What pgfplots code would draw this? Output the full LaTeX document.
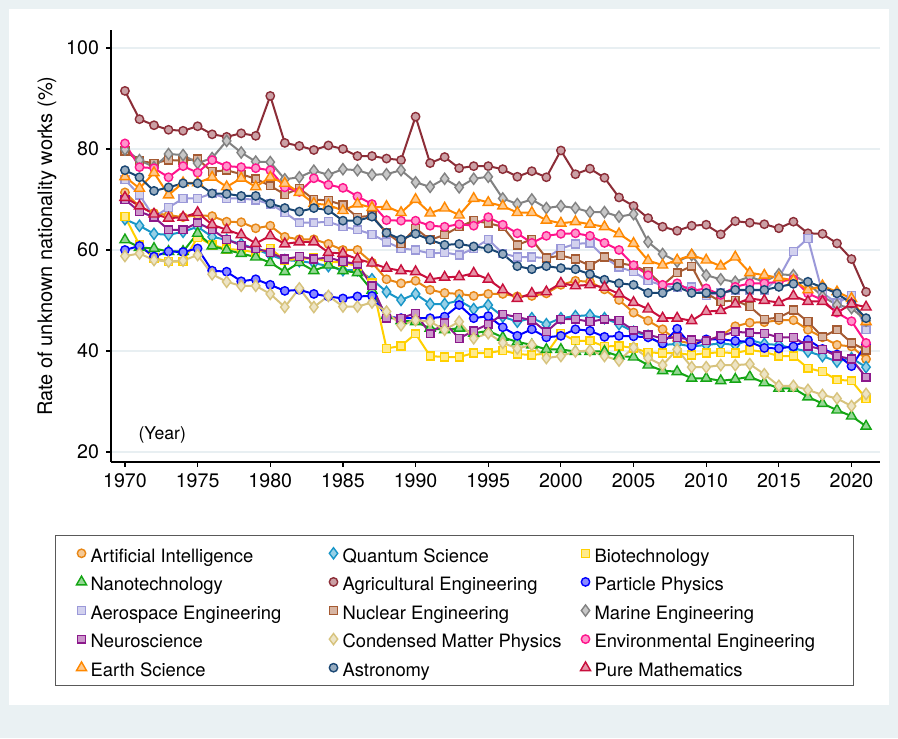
\documentclass[border=0pt]{standalone}
\usepackage{pgfplots}
\pgfplotsset{compat=1.18}
\usepackage{pgfplotstable}
\usepackage{fontspec}
\setmainfont{TeX Gyre Heros}

\definecolor{bgc}{RGB}{234,241,243}
\definecolor{gridc}{RGB}{232,239,242}
\definecolor{cai}{RGB}{232,134,20}
\definecolor{cqs}{RGB}{25,150,200}
\definecolor{cbt}{RGB}{255,208,0}
\definecolor{cnt}{RGB}{20,165,20}
\definecolor{cag}{RGB}{140,45,55}
\definecolor{cpp}{RGB}{0,0,255}
\definecolor{cae}{RGB}{155,153,217}
\definecolor{cne}{RGB}{165,90,50}
\definecolor{cme}{RGB}{130,130,130}
\definecolor{cns}{RGB}{140,25,140}
\definecolor{ccm}{RGB}{215,195,125}
\definecolor{cev}{RGB}{255,20,140}
\definecolor{ces}{RGB}{255,136,0}
\definecolor{cas}{RGB}{25,70,115}
\definecolor{cpm}{RGB}{200,15,60}

\pgfplotstableread{
yr   ai   qs   bt   nt   ag   pp   ae   ne   me   ns   cm   ev   es   as   pm
1970 71.4 66.1 66.6 62.0 91.5 60.0 73.9 79.6 79.9 70.0 58.8 81.1 74.5 75.8 70.4
1971 68.6 64.8 61.0 60.5 85.9 60.8 70.9 77.6 77.8 67.6 59.3 76.4 72.2 74.4 68.7
1972 67.3 63.2 58.4 60.3 84.7 58.7 66.5 77.2 76.4 66.5 58.0 76.2 75.3 71.7 67.1
1973 66.9 63.0 57.7 59.7 83.8 59.7 68.4 77.8 79.0 64.0 57.7 74.4 70.9 72.4 66.3
1974 66.5 63.6 57.7 59.7 83.6 59.6 70.2 77.7 78.8 64.0 57.9 76.6 73.3 73.2 66.5
1975 66.9 64.6 62.5 63.3 84.5 60.3 70.2 78.0 77.2 65.4 59.0 75.3 73.3 73.2 67.4
1976 66.7 62.6 61.0 60.8 82.9 55.9 71.2 75.5 78.2 64.0 55.2 77.8 74.4 71.2 65.0
1977 65.6 62.0 60.2 60.0 82.4 55.7 70.2 75.8 81.6 62.1 53.7 76.6 72.5 71.1 64.0
1978 65.5 61.2 60.0 59.3 83.1 53.8 70.2 75.0 79.3 60.9 52.9 76.4 74.2 70.7 63.0
1979 64.3 60.2 59.5 58.6 82.6 54.2 69.9 74.1 77.5 60.3 52.9 76.2 72.5 70.7 61.3
1980 64.8 59.0 60.3 57.5 90.5 53.1 69.1 72.7 77.4 59.5 51.3 75.8 74.4 69.2 62.8
1981 62.6 58.0 58.0 55.7 81.2 51.9 67.4 71.0 74.0 58.2 48.7 72.4 73.2 68.3 61.2
1982 62.1 57.8 58.2 57.5 80.6 52.1 65.4 72.2 74.4 58.7 52.4 71.5 71.4 67.6 61.6
1983 62.1 57.4 58.4 55.9 79.8 51.3 65.4 70.0 75.7 58.2 48.7 74.2 69.2 68.3 61.6
1984 61.2 56.8 57.7 57.0 80.7 50.8 65.6 69.8 74.9 58.5 50.9 72.9 68.9 67.9 59.5
1985 60.0 56.0 57.5 55.9 80.0 50.4 64.6 68.9 76.0 57.7 48.8 72.3 67.8 65.8 59.3
1986 60.0 56.0 56.8 55.5 78.6 50.8 64.0 66.5 75.8 57.2 48.8 70.6 69.1 65.8 58.2
1987 57.5 54.2 53.5 52.0 78.6 50.9 63.1 66.8 74.9 52.9 49.6 69.1 68.4 66.6 57.4
1988 54.2 51.7 40.5 47.0 78.1 46.8 61.6 63.4 75.0 46.5 47.8 65.9 68.6 63.4 56.4
1989 53.4 50.1 41.0 46.0 77.8 46.5 60.3 61.3 75.8 46.5 45.1 65.8 67.4 62.1 55.9
1990 53.9 51.3 43.4 45.8 86.4 46.5 60.0 64.3 73.4 47.5 46.1 65.8 70.0 63.2 55.7
1991 52.1 49.3 39.0 44.5 77.2 46.5 59.3 62.0 72.5 43.4 45.8 64.8 67.3 62.0 54.2
1992 51.5 49.3 38.8 44.2 78.4 46.8 59.5 63.0 74.1 45.6 44.2 64.6 68.3 61.0 54.6
1993 51.3 50.0 38.8 44.5 76.2 49.1 59.0 64.6 72.4 42.5 45.8 65.1 66.9 61.2 54.7
1994 50.9 48.3 39.6 43.5 76.6 46.5 60.3 65.8 74.1 44.0 42.5 64.8 70.2 60.7 55.4
1995 51.3 49.1 39.6 44.0 76.6 46.9 62.1 65.3 74.5 45.3 43.5 66.5 69.4 60.3 54.2
1996 51.3 46.8 40.1 42.7 76.0 44.7 59.3 64.6 70.2 47.3 41.6 65.0 68.7 59.2 52.1
1997 50.8 45.8 39.4 41.8 74.5 43.0 58.6 61.0 69.1 46.7 40.5 63.3 67.4 56.8 50.4
1998 50.9 46.5 39.2 41.2 75.6 44.3 58.6 62.1 70.0 46.1 41.2 61.4 67.4 56.2 51.4
1999 51.4 45.3 39.5 40.3 74.4 42.7 58.4 58.4 68.3 43.8 38.6 62.8 65.9 56.8 51.7
2000 53.1 46.5 43.5 40.3 79.7 43.0 60.3 58.9 68.7 46.3 39.0 63.2 65.3 56.4 53.4
2001 53.9 46.9 42.0 39.9 75.0 44.3 61.2 58.2 68.3 46.3 39.9 63.3 65.6 56.2 52.9
2002 53.7 47.1 42.0 39.9 76.1 44.0 61.4 56.9 67.5 45.8 40.1 62.8 65.1 55.2 53.1
2003 52.2 46.5 40.9 39.9 74.3 42.8 58.5 58.6 67.5 46.3 39.0 61.4 64.6 54.1 52.6
2004 50.1 45.3 41.0 39.0 70.4 43.0 56.6 57.4 66.6 46.0 38.1 60.0 63.2 53.4 51.3
2005 47.6 43.8 40.6 38.8 68.7 42.9 55.7 56.9 67.1 44.1 40.7 57.0 61.3 53.1 49.6
2006 46.0 43.0 39.7 37.2 66.3 42.7 53.9 55.7 61.6 43.2 38.6 55.0 57.9 51.5 48.3
2007 44.3 41.2 39.6 36.1 64.6 41.5 53.0 53.0 59.2 42.5 37.2 53.1 57.0 51.5 46.5
2008 42.0 41.4 39.6 35.9 63.8 44.4 52.5 55.5 57.7 42.7 40.3 53.4 58.0 52.7 46.5
2009 41.5 40.9 39.2 34.6 64.8 41.0 52.7 56.8 59.0 42.2 36.8 51.9 59.0 51.5 46.0
2010 42.0 41.2 39.6 34.6 65.0 42.3 51.0 51.4 55.0 42.0 36.8 52.4 58.0 51.5 47.8
2011 43.0 41.5 39.7 34.1 63.1 42.3 51.5 49.8 54.2 43.0 37.2 51.1 56.8 51.5 48.0
2012 44.9 41.2 39.6 34.4 65.7 42.0 52.0 50.0 53.7 43.8 37.2 52.7 58.6 52.1 49.3
2013 45.6 42.2 40.2 34.9 65.4 41.8 52.0 48.8 54.7 43.6 37.4 53.4 55.5 52.1 50.4
2014 45.7 41.4 39.8 33.7 65.1 40.6 52.0 46.3 53.7 43.5 35.4 53.4 55.0 52.1 50.0
2015 46.1 41.2 39.0 32.6 64.3 40.5 54.5 46.6 55.2 42.7 33.1 53.7 54.5 52.7 49.6
2016 46.1 40.5 39.0 32.6 65.6 40.9 59.7 48.1 55.0 42.7 33.1 54.2 54.0 53.3 50.9
2017 44.2 39.9 36.6 30.9 63.3 42.2 62.3 45.8 53.4 41.0 32.3 51.4 52.1 53.7 49.8
2018 42.7 39.0 35.9 29.6 63.2 40.4 51.5 42.8 50.8 40.3 31.3 50.1 52.9 52.6 49.8
2019 41.2 37.9 34.3 28.3 61.3 39.3 49.5 44.2 49.1 39.0 30.6 47.6 51.7 51.4 47.6
2020 40.9 38.6 34.1 27.1 58.2 37.0 51.0 41.6 48.5 38.4 29.1 45.9 50.4 49.4 49.3
2021 38.4 36.8 30.6 25.1 51.7 41.3 44.2 40.2 46.0 34.8 31.5 41.6 45.8 46.5 48.7
}\data

\pgfplotsset{
  circ/.style={color=#1, line width=1pt, mark=*, mark size=2.1pt,
    mark options={solid, draw=#1, fill=#1!45!white, line width=0.7pt}},
  sq/.style={color=#1, line width=1pt, mark=square*, mark size=1.95pt,
    mark options={solid, draw=#1, fill=#1!45!white, line width=0.7pt}},
  tri/.style={color=#1, line width=1pt, mark=triangle*, mark size=2.9pt,
    mark options={solid, draw=#1, fill=#1!45!white, line width=0.7pt}},
  dia/.style={color=#1, line width=1pt, mark=diamond*, mark size=2.8pt,
    mark options={solid, draw=#1, fill=#1!45!white, line width=0.7pt}},
}
\newcommand\lga[1]{\makebox[119pt][l]{\hspace{1pt}\rule[-4.2pt]{0pt}{14.5pt}#1}}
\newcommand\lgb[1]{\makebox[121pt][l]{\hspace{1pt}\rule[-4.2pt]{0pt}{14.5pt}#1}}

\begin{document}
\begin{tikzpicture}
\fill[bgc] (0,0) rectangle (449pt,369pt);
\fill[white] (4.5pt,16.5pt) rectangle (444.5pt,364.5pt);
\begin{axis}[
  scale only axis, width=384.5pt, height=216pt,
  at={(55.5pt,138pt)}, anchor=south west,
  xmin=1969.04, xmax=2021.96, ymin=18.02, ymax=103.56,
  axis x line*=bottom, axis y line*=left,
  axis line style={black, line width=0.7pt, -},
  xtick={1970,1975,...,2020}, ytick={20,40,60,80,100},
  tick align=outside, major tick length=2.5pt,
  tick style={black, line width=0.6pt},
  /pgf/number format/assume math mode=true,
  xticklabel style={/pgf/number format/1000 sep={}},
  tick label style={font=\fontsize{9.8}{11}\selectfont},
  ymajorgrids, grid style={color=gridc, line width=0.8pt},
  ylabel={Rate of unknown nationality works (\%)},
  every axis y label/.style={at={(axis description cs:-0.0832,0.5)}, rotate=90, anchor=center,
     font=\fontsize{10}{12}\selectfont},
  legend columns=3,
  legend cell align=left,
  legend image code/.code={\path (-3pt,0pt) (3pt,0pt); \draw[#1,only marks] plot coordinates {(0pt,0pt)};},
  legend style={at={(axis description cs:-0.0728,-0.169)}, anchor=north west,
     draw=black!65, line width=0.5pt, fill=white, inner xsep=9.5pt, inner ysep=3pt,
     row sep=2.5pt,
     nodes={inner sep=0pt}, font=\fontsize{9.2}{11}\selectfont,
     /tikz/every even column/.append style={column sep=0pt}},
]
\addplot[circ=cai] table[x=yr,y=ai]{\data}; \addlegendentry{\lga{Artificial Intelligence}}
\addplot[dia=cqs] table[x=yr,y=qs]{\data}; \addlegendentry{\lga{Quantum Science}}
\addplot[sq=cbt] table[x=yr,y=bt]{\data}; \addlegendentry{\lgb{Biotechnology}}
\addplot[tri=cnt] table[x=yr,y=nt]{\data}; \addlegendentry{\lga{Nanotechnology}}
\addplot[circ=cag] table[x=yr,y=ag]{\data}; \addlegendentry{\lga{Agricultural Engineering}}
\addplot[circ=cpp] table[x=yr,y=pp]{\data}; \addlegendentry{\lgb{Particle Physics}}
\addplot[sq=cae] table[x=yr,y=ae]{\data}; \addlegendentry{\lga{Aerospace Engineering}}
\addplot[sq=cne] table[x=yr,y=ne]{\data}; \addlegendentry{\lga{Nuclear Engineering}}
\addplot[dia=cme] table[x=yr,y=me]{\data}; \addlegendentry{\lgb{Marine Engineering}}
\addplot[sq=cns] table[x=yr,y=ns]{\data}; \addlegendentry{\lga{Neuroscience}}
\addplot[dia=ccm] table[x=yr,y=cm]{\data}; \addlegendentry{\lga{Condensed Matter Physics}}
\addplot[circ=cev] table[x=yr,y=ev]{\data}; \addlegendentry{\lgb{Environmental Engineering}}
\addplot[tri=ces] table[x=yr,y=es]{\data}; \addlegendentry{\lga{Earth Science}}
\addplot[circ=cas] table[x=yr,y=as]{\data}; \addlegendentry{\lga{Astronomy}}
\addplot[tri=cpm] table[x=yr,y=pm]{\data}; \addlegendentry{\lgb{Pure Mathematics}}
\node[anchor=west, font=\fontsize{8.8}{10}\selectfont] at (axis cs:1970.45,23.4) {(Year)};
\end{axis}
\pgfresetboundingbox
\path[use as bounding box] (0,0) rectangle (449pt,369pt);
\end{tikzpicture}
\end{document}
